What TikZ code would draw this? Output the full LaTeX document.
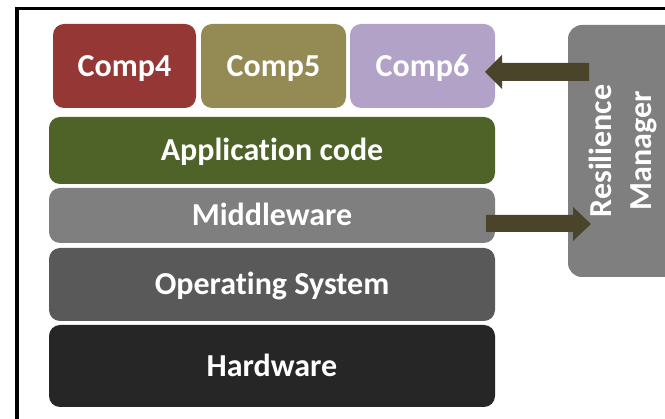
\documentclass[tikz,border=0pt]{standalone}
\usepackage{fontspec}
\setmainfont{Carlito}[Ligatures={CommonOff,ContextualOff},Contextuals=AlternateOff]

% layer colours
\definecolor{compA}{HTML}{953735}
\definecolor{compB}{HTML}{948A54}
\definecolor{compC}{HTML}{B3A2C7}
\definecolor{appc}{HTML}{4F6228}
\definecolor{midc}{HTML}{7F7F7F}
\definecolor{osc}{HTML}{595959}
\definecolor{hwc}{HTML}{262626}
\definecolor{rmc}{HTML}{7F7F7F}
\definecolor{arrowc}{HTML}{4A452A}

\begin{document}
\begin{tikzpicture}[x=1pt,y=-1pt,
  layer/.style={fill=#1, rounded corners=11pt, text=white, inner sep=0pt,
    font=\fontsize{32}{39}\selectfont\bfseries,
    text height=20.6pt, text depth=0pt},
  label/.style={text=white, inner sep=0pt,
    font=\fontsize{32}{39}\selectfont\bfseries,
    text height=20.6pt, text depth=0pt},
  blockarrow/.style={fill=arrowc}]

  % canvas and clipping
  \useasboundingbox (0,0) rectangle (665,419);
  \clip (0,0) rectangle (665,419);
  \fill[white] (0,0) rectangle (665,419);

  % outer frame (continues past the right and bottom edges)
  \draw[line width=3.5pt] (17,8.5) rectangle (720,470);

  % component row
  \node[layer=compA, minimum width=143pt, minimum height=84pt] (comp4) at (124.5,66) {Comp4};
  \node[layer=compB, minimum width=145pt, minimum height=84pt] (comp5) at (273.5,66) {Comp5};
  \node[layer=compC, minimum width=145pt, minimum height=84pt] (comp6) at (422.5,66) {Comp6};

  % software / hardware stack
  \node[layer=appc, minimum width=446pt, minimum height=67pt] (app) at (272,150.5) {Application code};
  \node[layer=midc, minimum width=446pt, minimum height=55pt] (mid) at (272,215.5) {Middleware};
  \node[layer=osc,  minimum width=446pt, minimum height=73pt] (os)  at (272,284.5) {Operating System};
  \node[layer=hwc,  minimum width=446pt, minimum height=82pt] (hw)  at (272,366) {Hardware};

  % resilience manager
  \node[fill=rmc, rounded corners=14pt, minimum width=114pt, minimum height=252pt, inner sep=0pt] (rm) at (625,151) {};
  \node[label, rotate=90] (rmA) at (601.5,151) {Resilience};
  \node[label, rotate=90] (rmB) at (641.5,151) {Manager};

  % manager -> Comp6
  \coordinate (a1tip) at (485,72);
  \fill[blockarrow] (a1tip) -- ++(17,-17) -- ++(0,8) -- ++(87,0) -- ++(0,18)
    -- ++(-87,0) -- ++(0,8) -- cycle;

  % middleware -> manager
  \coordinate (a2tip) at (591,224);
  \fill[blockarrow] (a2tip) -- ++(-18,-17) -- ++(0,8) -- ++(-87,0) -- ++(0,17)
    -- ++(87,0) -- ++(0,9) -- cycle;
\end{tikzpicture}
\end{document}
